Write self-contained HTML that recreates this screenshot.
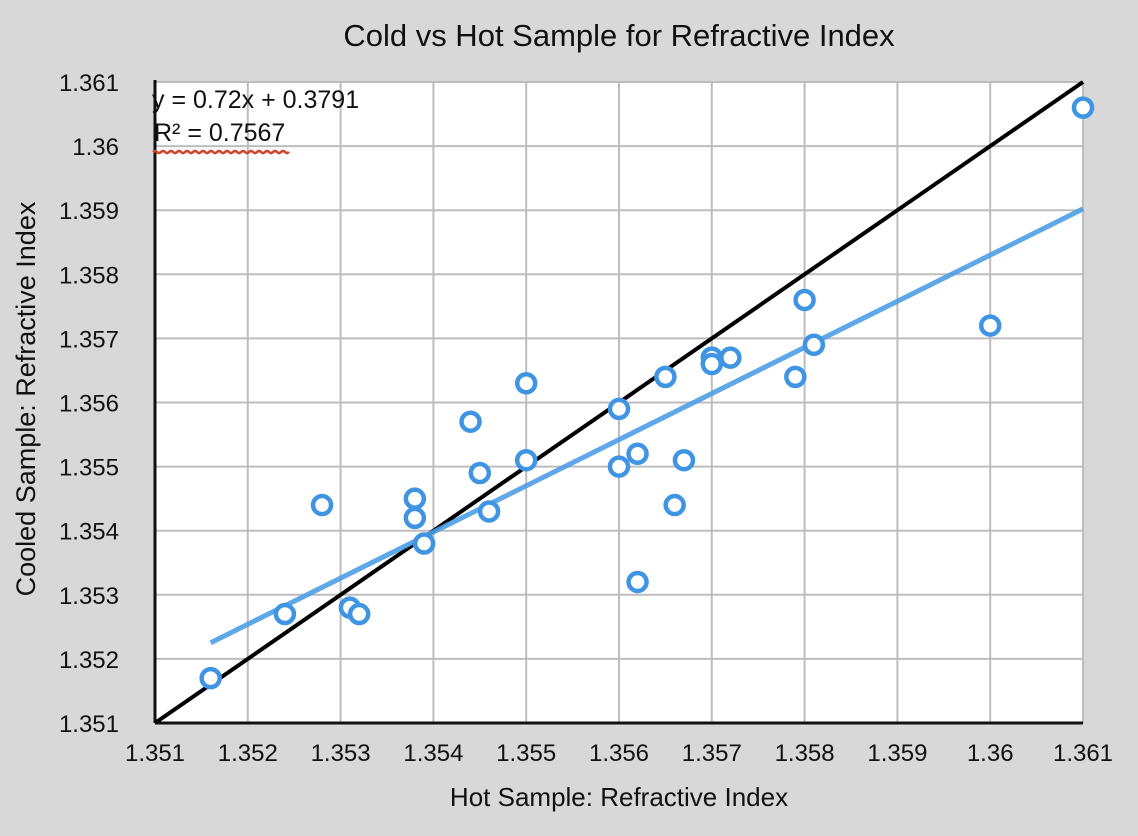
<!DOCTYPE html>
<html><head><meta charset="utf-8"><style>
body{margin:0;background:#d8d8d8;width:1138px;height:831px;overflow:hidden;font-family:"Liberation Sans",sans-serif}
</style></head><body>
<svg id="chart" width="1138" height="831" xmlns="http://www.w3.org/2000/svg" font-family="Liberation Sans, sans-serif">
<rect x="0" y="0" width="1138" height="831" fill="#d8d8d8"/>
<text x="619" y="46" text-anchor="middle" font-size="31" fill="#111">Cold vs Hot Sample for Refractive Index</text>
<text x="619" y="806" text-anchor="middle" font-size="26" fill="#111">Hot Sample: Refractive Index</text>
<text transform="translate(35,399) rotate(-90)" text-anchor="middle" font-size="27" fill="#111">Cooled Sample: Refractive Index</text>
<g id="plot"></g>
</svg>
<script>
const xTicks=[1.351,1.352,1.353,1.354,1.355,1.356,1.357,1.358,1.359,1.36,1.361];
const yTicks=[1.351,1.352,1.353,1.354,1.355,1.356,1.357,1.358,1.359,1.36,1.361];
const xLabels=["1.351","1.352","1.353","1.354","1.355","1.356","1.357","1.358","1.359","1.36","1.361"];
const yLabels=["1.351","1.352","1.353","1.354","1.355","1.356","1.357","1.358","1.359","1.36","1.361"];
const hotValues=[1.3516,1.3524,1.3528,1.3531,1.3532,1.3538,1.3538,1.3539,1.3544,1.3545,1.3546,1.355,1.355,1.356,1.356,1.3562,1.3562,1.3565,1.3566,1.3567,1.357,1.357,1.3572,1.3579,1.358,1.3581,1.36,1.361];
const coldValues=[1.3517,1.3527,1.3544,1.3528,1.3527,1.3545,1.3542,1.3538,1.3557,1.3549,1.3543,1.3563,1.3551,1.3559,1.355,1.3552,1.3532,1.3564,1.3544,1.3551,1.3567,1.3566,1.3567,1.3564,1.3576,1.3569,1.3572,1.3606];
const slope=0.72, intercept=0.3791;
const X0=155,X1=1083,Y0=723,Y1=82;
const xs=v=>X0+(v-1.351)/0.01*(X1-X0);
const ys=v=>Y0-(v-1.351)/0.01*(Y0-Y1);
const NS="http://www.w3.org/2000/svg";
const g=document.getElementById('plot');
function mk(t,a){const e=document.createElementNS(NS,t);for(const k in a)e.setAttribute(k,a[k]);g.appendChild(e);return e;}
let e=mk('rect',{x:X0,y:Y1,width:X1-X0,height:Y0-Y1,fill:'#fff'});


xTicks.forEach((v,i)=>{
 let l=mk('line',{x1:xs(v),x2:xs(v),y1:Y1,y2:Y0,stroke:'#bdbdbd','stroke-width':2});
 
 
 let t=mk('text',{x:xs(v),y:Y0+38,'text-anchor':'middle','font-size':24,fill:'#111'});t.textContent=xLabels[i];
 
 
});
yTicks.forEach((v,i)=>{
 let l=mk('line',{x1:X0,x2:X1,y1:ys(v),y2:ys(v),stroke:'#bdbdbd','stroke-width':2});
 
 
 let t=mk('text',{x:X0-36,y:ys(v)+9,'text-anchor':'end','font-size':24,fill:'#111'});t.textContent=yLabels[i];
 
 
});
e=mk('line',{x1:X0,x2:X0,y1:Y1-2,y2:Y0,stroke:'#111','stroke-width':3});


e=mk('line',{x1:X0,x2:X1,y1:Y0,y2:Y0,stroke:'#111','stroke-width':3});


e=mk('line',{x1:xs(1.351),y1:ys(1.351),x2:xs(1.361),y2:ys(1.361),stroke:'#000','stroke-width':4});


const tx0=Math.min(...hotValues),tx1=Math.max(...hotValues);
e=mk('line',{x1:xs(tx0),y1:ys(slope*tx0+intercept),x2:xs(tx1),y2:ys(slope*tx1+intercept),stroke:'#4d9de6','stroke-width':5,'stroke-opacity':0.9});


hotValues.forEach((v,i)=>{
 let c=mk('circle',{cx:xs(v),cy:ys(coldValues[i]),r:9,fill:'#fff',stroke:'#3f95e3','stroke-width':4.5});
 
 
});
let t1=mk('text',{x:152,y:108,'font-size':25,fill:'#111'});t1.textContent='y = 0.72x + 0.3791';


let t2=mk('text',{x:154,y:141,'font-size':25,fill:'#111'});t2.textContent='R² = 0.7567';


e=mk('path',{d:'M153 152 q2 -2 4 0 t4 0 t4 0 t4 0 t4 0 t4 0 t4 0 t4 0 t4 0 t4 0 t4 0 t4 0 t4 0 t4 0 t4 0 t4 0 t4 0 t4 0 t4 0 t4 0 t4 0 t4 0 t4 0 t4 0 t4 0 t4 0 t4 0 t4 0 t4 0 t4 0 t4 0 t4 0 t4 0 t4 0',fill:'none',stroke:'#d0452a','stroke-width':2.5});


</script>
</body></html>
